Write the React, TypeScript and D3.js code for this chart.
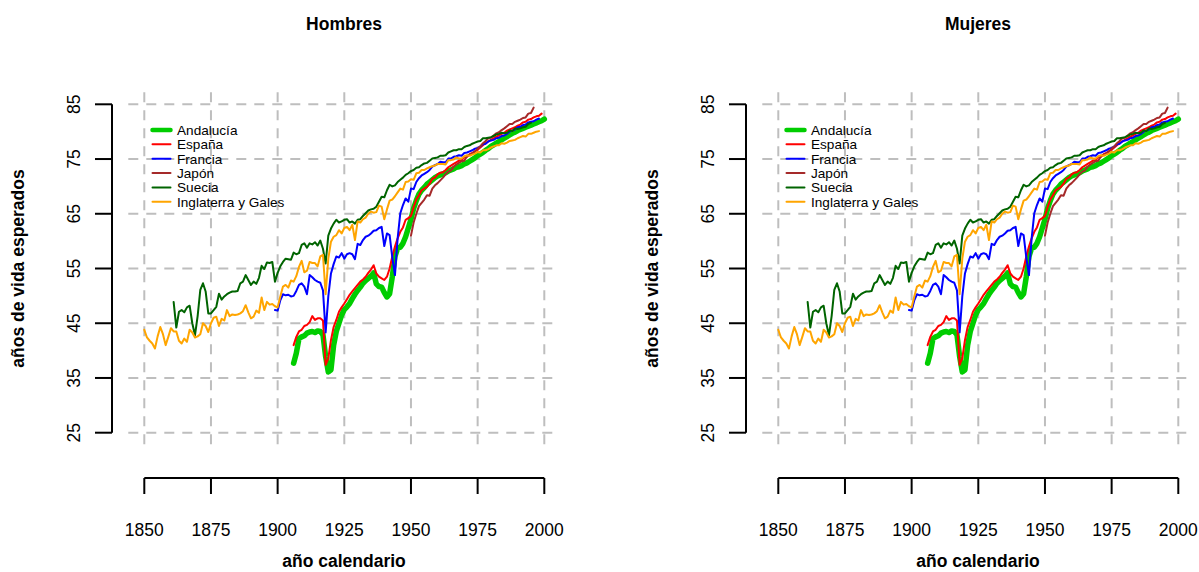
import React from 'react';
import * as d3 from 'd3';

type Pt = [number, number];

const andalucia: Pt[] = [
  [1906, 37.7], [1907, 39.5], [1908, 42.2], [1909, 42.5], [1910, 42.7], [1911, 43.2], [1912, 43.4], [1913, 43.5],
  [1914, 43.3], [1915, 43.6], [1916, 43.5], [1917, 42.9], [1918, 38.9], [1919, 36.1], [1920, 36.5], [1921, 41.0],
  [1922, 43.5], [1923, 45.0], [1924, 46.5], [1925, 47.5], [1926, 48.0], [1927, 48.6], [1928, 49.5], [1929, 50.3],
  [1930, 51.0], [1931, 51.6], [1932, 52.3], [1933, 52.8], [1934, 53.2], [1935, 53.6], [1936, 54.2], [1937, 52.2],
  [1938, 51.7], [1939, 51.6], [1940, 50.6], [1941, 49.8], [1942, 50.4], [1943, 53.5], [1944, 57.2], [1945, 58.7],
  [1946, 58.9], [1947, 59.6], [1948, 60.8], [1949, 62.4], [1950, 64.0], [1951, 66.0], [1952, 67.4], [1953, 68.6],
  [1954, 69.3], [1955, 69.8], [1956, 70.4], [1957, 70.8], [1958, 71.2], [1959, 71.6], [1960, 71.9], [1961, 72.1],
  [1962, 72.3], [1963, 72.5], [1964, 72.8], [1965, 73.0], [1966, 73.2], [1967, 73.5], [1968, 73.6], [1969, 73.8],
  [1970, 74.1], [1971, 74.3], [1972, 74.6], [1973, 74.9], [1974, 75.2], [1975, 75.6], [1976, 75.9], [1977, 76.2],
  [1978, 76.6], [1979, 76.9], [1980, 77.3], [1981, 77.6], [1982, 77.9], [1983, 78.2], [1984, 78.5], [1985, 78.8],
  [1986, 79.1], [1987, 79.4], [1988, 79.7], [1989, 79.9], [1990, 80.2], [1991, 80.4], [1992, 80.6], [1993, 80.8],
  [1994, 81.0], [1995, 81.2], [1996, 81.4], [1997, 81.6], [1998, 81.8], [1999, 82.0], [2000, 82.3],
];

const espana: Pt[] = [
  [1906, 41.0], [1907, 42.5], [1908, 43.5], [1909, 43.8], [1910, 44.5], [1911, 44.7], [1912, 45.2], [1913, 46.3],
  [1914, 45.6], [1915, 45.9], [1916, 45.9], [1917, 45.5], [1918, 37.4], [1919, 38.6], [1920, 41.9], [1921, 44.3],
  [1922, 45.6], [1923, 47.1], [1924, 47.9], [1925, 48.6], [1926, 49.4], [1927, 50.2], [1928, 50.8], [1929, 51.4],
  [1930, 52.0], [1931, 52.6], [1932, 53.0], [1933, 53.5], [1934, 54.2], [1935, 54.8], [1936, 55.6], [1937, 54.1],
  [1938, 53.5], [1939, 53.2], [1940, 52.9], [1941, 53.5], [1942, 55.0], [1943, 57.2], [1944, 59.0], [1945, 60.5],
  [1946, 61.7], [1947, 62.5], [1948, 63.9], [1949, 64.2], [1950, 64.6], [1951, 66.2], [1952, 67.6], [1953, 68.4],
  [1954, 69.3], [1955, 69.6], [1956, 69.9], [1957, 70.5], [1958, 71.4], [1959, 71.6], [1960, 72.2], [1961, 72.5],
  [1962, 72.6], [1963, 73.0], [1964, 73.5], [1965, 73.8], [1966, 74.1], [1967, 74.4], [1968, 74.7], [1969, 74.8],
  [1970, 75.3], [1971, 75.4], [1972, 75.9], [1973, 76.1], [1974, 76.4], [1975, 76.7], [1976, 77.1], [1977, 77.5],
  [1978, 77.9], [1979, 78.2], [1980, 78.5], [1981, 78.8], [1982, 79.1], [1983, 79.3], [1984, 79.6], [1985, 79.8],
  [1986, 80.2], [1987, 80.4], [1988, 80.6], [1989, 80.8], [1990, 81.1], [1991, 81.3], [1992, 81.7], [1993, 81.8],
  [1994, 82.2], [1995, 82.3], [1996, 82.6], [1997, 82.8], [1998, 82.9], [1999, 83.3],
];

const francia: Pt[] = [
  [1899, 47.4], [1900, 47.3], [1901, 49.2], [1902, 50.3], [1903, 50.1], [1904, 50.2], [1905, 49.9], [1906, 50.0],
  [1907, 50.9], [1908, 52.0], [1909, 52.3], [1910, 51.7], [1911, 50.3], [1912, 53.8], [1913, 53.4], [1914, 52.9],
  [1915, 52.6], [1916, 52.4], [1917, 51.0], [1918, 43.3], [1919, 49.9], [1920, 54.1], [1921, 55.8], [1922, 57.2],
  [1923, 57.0], [1924, 57.8], [1925, 56.8], [1926, 57.6], [1927, 57.8], [1928, 57.6], [1929, 56.7], [1930, 59.5],
  [1931, 59.3], [1932, 60.2], [1933, 60.8], [1934, 61.0], [1935, 61.4], [1936, 61.9], [1937, 62.0], [1938, 62.4],
  [1939, 62.6], [1940, 59.1], [1941, 61.4], [1942, 61.1], [1943, 57.0], [1944, 53.8], [1945, 60.5], [1946, 65.1],
  [1947, 66.6], [1948, 67.8], [1949, 67.2], [1950, 69.6], [1951, 69.5], [1952, 70.8], [1953, 71.5], [1954, 72.0],
  [1955, 72.3], [1956, 72.6], [1957, 73.0], [1958, 73.6], [1959, 73.9], [1960, 74.1], [1961, 74.5], [1962, 74.4],
  [1963, 74.4], [1964, 75.1], [1965, 75.1], [1966, 75.4], [1967, 75.5], [1968, 75.7], [1969, 75.6], [1970, 76.1],
  [1971, 76.2], [1972, 76.4], [1973, 76.6], [1974, 76.9], [1975, 77.0], [1976, 77.3], [1977, 77.7], [1978, 77.8],
  [1979, 78.2], [1980, 78.4], [1981, 78.5], [1982, 78.8], [1983, 78.9], [1984, 79.2], [1985, 79.3], [1986, 79.6],
  [1987, 80.0], [1988, 80.2], [1989, 80.4], [1990, 80.8], [1991, 80.9], [1992, 81.2], [1993, 81.3], [1994, 81.7],
  [1995, 81.8], [1996, 81.9], [1997, 82.2], [1998, 82.4],
];

const japon: Pt[] = [
  [1950, 61.0], [1951, 63.4], [1952, 65.0], [1953, 66.4], [1954, 67.0], [1955, 67.6], [1956, 68.4], [1957, 68.3],
  [1958, 69.6], [1959, 70.2], [1960, 70.6], [1961, 71.1], [1962, 71.6], [1963, 72.2], [1964, 72.7], [1965, 72.9],
  [1966, 73.6], [1967, 74.0], [1968, 74.3], [1969, 74.6], [1970, 74.7], [1971, 75.5], [1972, 75.8], [1973, 76.0],
  [1974, 76.4], [1975, 76.9], [1976, 77.3], [1977, 77.9], [1978, 78.3], [1979, 78.8], [1980, 78.9], [1981, 79.3],
  [1982, 79.7], [1983, 79.9], [1984, 80.3], [1985, 80.6], [1986, 81.0], [1987, 81.4], [1988, 81.4], [1989, 81.8],
  [1990, 82.0], [1991, 82.2], [1992, 82.5], [1993, 82.6], [1994, 83.3], [1995, 83.4], [1996, 84.4],
];

const suecia: Pt[] = [
  [1861, 48.9], [1862, 44.2], [1863, 47.1], [1864, 47.4], [1865, 47.0], [1866, 47.9], [1867, 48.2], [1868, 45.0],
  [1869, 42.8], [1870, 46.3], [1871, 51.1], [1872, 52.3], [1873, 50.8], [1874, 46.8], [1875, 46.8], [1876, 47.4],
  [1877, 48.0], [1878, 50.4], [1879, 49.3], [1880, 49.9], [1881, 50.3], [1882, 50.6], [1883, 50.8], [1884, 50.8],
  [1885, 50.9], [1886, 52.3], [1887, 52.6], [1888, 53.8], [1889, 52.9], [1890, 52.0], [1891, 52.6], [1892, 52.2],
  [1893, 53.3], [1894, 55.5], [1895, 54.9], [1896, 56.1], [1897, 56.0], [1898, 56.2], [1899, 52.6], [1900, 54.2],
  [1901, 55.4], [1902, 56.2], [1903, 56.8], [1904, 56.7], [1905, 56.6], [1906, 57.9], [1907, 57.6], [1908, 57.8],
  [1909, 59.3], [1910, 59.6], [1911, 58.8], [1912, 59.6], [1913, 59.4], [1914, 59.8], [1915, 59.2], [1916, 60.1],
  [1917, 58.6], [1918, 55.9], [1919, 61.0], [1920, 62.3], [1921, 63.2], [1922, 63.9], [1923, 63.4], [1924, 63.6],
  [1925, 63.9], [1926, 64.0], [1927, 63.4], [1928, 63.6], [1929, 63.2], [1930, 63.9], [1931, 64.0], [1932, 64.6],
  [1933, 65.1], [1934, 65.6], [1935, 65.8], [1936, 65.9], [1937, 66.3], [1938, 67.2], [1939, 68.1], [1940, 68.0],
  [1941, 69.3], [1942, 70.3], [1943, 70.0], [1944, 70.2], [1945, 70.8], [1946, 71.2], [1947, 71.6], [1948, 72.1],
  [1949, 72.4], [1950, 72.8], [1951, 73.0], [1952, 73.4], [1953, 73.5], [1954, 73.9], [1955, 74.2], [1956, 74.3],
  [1957, 74.7], [1958, 75.1], [1959, 75.2], [1960, 75.3], [1961, 75.6], [1962, 75.6], [1963, 75.7], [1964, 76.2],
  [1965, 76.4], [1966, 76.6], [1967, 76.6], [1968, 76.8], [1969, 76.8], [1970, 77.2], [1971, 77.4], [1972, 77.5],
  [1973, 77.8], [1974, 78.0], [1975, 78.2], [1976, 78.3], [1977, 78.8], [1978, 78.8], [1979, 78.9], [1980, 79.0],
  [1981, 79.2], [1982, 79.5], [1983, 79.6], [1984, 79.8], [1985, 79.7], [1986, 79.8], [1987, 80.2], [1988, 80.1],
  [1989, 80.6], [1990, 80.5], [1991, 80.6], [1992, 80.8], [1993, 80.9], [1994, 81.4], [1995, 81.6],
];

const inglaterra: Pt[] = [
  [1850, 43.8], [1851, 42.4], [1852, 41.8], [1853, 41.3], [1854, 40.4], [1855, 42.6], [1856, 44.3], [1857, 43.0],
  [1858, 41.0], [1859, 42.5], [1860, 44.1], [1861, 43.5], [1862, 43.5], [1863, 41.8], [1864, 41.3], [1865, 42.2],
  [1866, 41.6], [1867, 43.8], [1868, 43.3], [1869, 42.4], [1870, 42.6], [1871, 43.0], [1872, 45.0], [1873, 44.5],
  [1874, 43.4], [1875, 45.0], [1876, 46.0], [1877, 46.2], [1878, 44.5], [1879, 45.8], [1880, 45.5], [1881, 47.4],
  [1882, 46.3], [1883, 46.6], [1884, 46.5], [1885, 46.6], [1886, 46.8], [1887, 47.2], [1888, 48.3], [1889, 47.0],
  [1890, 45.9], [1891, 46.2], [1892, 47.3], [1893, 46.9], [1894, 49.7], [1895, 47.4], [1896, 48.9], [1897, 48.4],
  [1898, 48.5], [1899, 48.1], [1900, 47.9], [1901, 49.9], [1902, 51.7], [1903, 52.0], [1904, 51.5], [1905, 52.8],
  [1906, 52.6], [1907, 53.6], [1908, 55.3], [1909, 56.4], [1910, 54.3], [1911, 54.6], [1912, 56.2], [1913, 56.0],
  [1914, 56.0], [1915, 55.4], [1916, 57.2], [1917, 57.5], [1918, 50.3], [1919, 56.8], [1920, 59.9], [1921, 60.8],
  [1922, 61.1], [1923, 62.0], [1924, 61.4], [1925, 62.4], [1926, 62.6], [1927, 62.0], [1928, 63.0], [1929, 60.2],
  [1930, 63.6], [1931, 63.4], [1932, 64.0], [1933, 64.3], [1934, 65.0], [1935, 65.4], [1936, 65.2], [1937, 65.3],
  [1938, 66.5], [1939, 66.3], [1940, 64.0], [1941, 65.8], [1942, 67.4], [1943, 67.6], [1944, 68.2], [1945, 68.9],
  [1946, 69.6], [1947, 69.4], [1948, 70.8], [1949, 70.9], [1950, 71.3], [1951, 71.2], [1952, 72.4], [1953, 72.5],
  [1954, 73.0], [1955, 73.0], [1956, 73.3], [1957, 73.5], [1958, 73.7], [1959, 73.8], [1960, 74.1], [1961, 74.1],
  [1962, 74.1], [1963, 74.0], [1964, 74.8], [1965, 74.8], [1966, 74.9], [1967, 75.3], [1968, 75.1], [1969, 75.1],
  [1970, 75.5], [1971, 75.7], [1972, 75.6], [1973, 75.8], [1974, 76.0], [1975, 76.3], [1976, 76.2], [1977, 76.6],
  [1978, 76.6], [1979, 76.8], [1980, 77.1], [1981, 77.3], [1982, 77.5], [1983, 77.5], [1984, 77.9], [1985, 77.8],
  [1986, 78.0], [1987, 78.3], [1988, 78.4], [1989, 78.5], [1990, 78.8], [1991, 79.0], [1992, 79.2], [1993, 79.1],
  [1994, 79.6], [1995, 79.6], [1996, 79.8], [1997, 80.0], [1998, 80.1],
];

const seriesNames = ['Andalucía', 'España', 'Francia', 'Japón', 'Suecia', 'Inglaterra y Gales'];
const seriesData = [andalucia, espana, francia, japon, suecia, inglaterra];
const seriesColors = ['#00CD00', '#FF0000', '#0000FF', '#A52A2A', '#006400', '#FFA500'];
const seriesWidths = [5.5, 2, 2, 2, 2, 2];

const xTicks = [1850, 1875, 1900, 1925, 1950, 1975, 2000];
const yTicks = [25, 35, 45, 55, 65, 75, 85];
const panelTitles = ['Hombres', 'Mujeres'];
const xLabel = 'año calendario';
const yLabel = 'años de vida esperados';

const FONT = '"Liberation Sans", Arial, Helvetica, sans-serif';
const PANEL_DX = 634;

const x = d3.scaleLinear().domain([1850, 2000]).range([144.3, 544.3]);
const y = d3.scaleLinear().domain([25, 85]).range([432.7, 104.3]);
const line = d3
  .line<Pt>()
  .x((d) => x(d[0]))
  .y((d) => y(d[1]));

function Panel({ title, dx }: { title: string; dx: number }) {
  const plotLeft = x(1844);
  const plotRight = x(2006);
  const plotTop = y(87.2);
  const plotBottom = y(22.8);
  const axisX = 112;
  const axisY = 478;
  const gridColor = '#bebebe';
  return (
    <g transform={`translate(${dx},0)`}>
      <text x={344} y={30} textAnchor="middle" fontWeight="bold" fontSize={17.5} fontFamily={FONT}>
        {title}
      </text>
      {xTicks.map((t) => (
        <line key={`gv${t}`} x1={x(t)} x2={x(t)} y1={plotTop} y2={plotBottom}
          stroke={gridColor} strokeWidth={2} strokeDasharray="10 8" />
      ))}
      {yTicks.map((t) => (
        <line key={`gh${t}`} x1={plotLeft} x2={plotRight} y1={y(t)} y2={y(t)}
          stroke={gridColor} strokeWidth={2} strokeDasharray="10 8" />
      ))}
      {seriesData.map((d, i) => (
        <path key={seriesNames[i]} d={line(d) || ''} fill="none" stroke={seriesColors[i]}
          strokeWidth={seriesWidths[i]} strokeLinejoin="round" strokeLinecap="round" />
      ))}
      <line x1={axisX} x2={axisX} y1={y(25)} y2={y(85)} stroke="#000" strokeWidth={2} />
      {yTicks.map((t) => (
        <g key={`yt${t}`}>
          <line x1={axisX - 17} x2={axisX} y1={y(t)} y2={y(t)} stroke="#000" strokeWidth={2} />
          <text transform={`translate(${axisX - 32},${y(t)}) rotate(-90)`} textAnchor="middle"
            fontSize={17.5} fontFamily={FONT}>
            {t}
          </text>
        </g>
      ))}
      <text transform={`translate(24,268.5) rotate(-90)`} textAnchor="middle" fontWeight="bold"
        fontSize={17.5} fontFamily={FONT}>
        {yLabel}
      </text>
      <line x1={x(1850)} x2={x(2000)} y1={axisY} y2={axisY} stroke="#000" strokeWidth={2} />
      {xTicks.map((t) => (
        <g key={`xt${t}`}>
          <line x1={x(t)} x2={x(t)} y1={axisY} y2={axisY + 16} stroke="#000" strokeWidth={2} />
          <text x={x(t)} y={536} textAnchor="middle" fontSize={17.5} fontFamily={FONT}>
            {t}
          </text>
        </g>
      ))}
      <text x={344} y={567} textAnchor="middle" fontWeight="bold" fontSize={17.5} fontFamily={FONT}>
        {xLabel}
      </text>
      {seriesNames.map((n, i) => {
        const ly = 130 + i * 14.35;
        return (
          <g key={`lg${n}`}>
            <line x1={152.5} x2={170.5} y1={ly} y2={ly} stroke={seriesColors[i]}
              strokeWidth={i === 0 ? 4.5 : 2} strokeLinecap="round" />
            <text x={177} y={ly + 5} fontSize={13.6} fontFamily={FONT}>
              {n}
            </text>
          </g>
        );
      })}
    </g>
  );
}

export default function App() {
  return (
    <svg width={1199} height={572} style={{ position: 'absolute', left: 0, top: 0, background: '#fff' }}>
      <rect x={0} y={0} width={1199} height={572} fill="#fff" />
      {panelTitles.map((t, i) => (
        <Panel key={t} title={t} dx={i * PANEL_DX} />
      ))}
    </svg>
  );
}
